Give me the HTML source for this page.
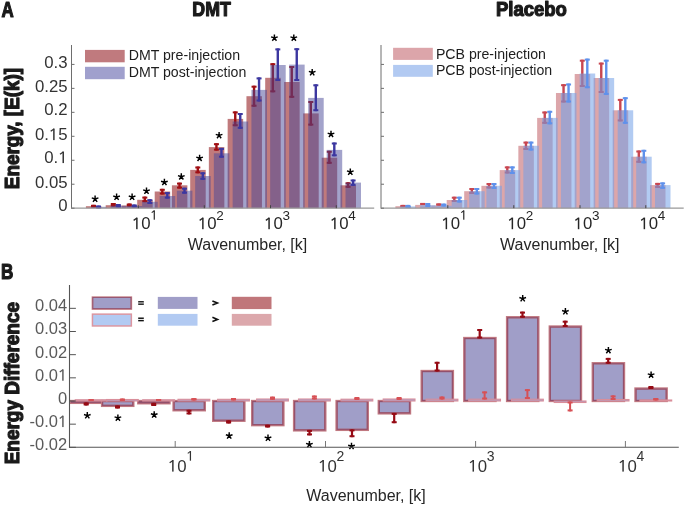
<!DOCTYPE html>
<html><head><meta charset="utf-8"><style>
html,body{margin:0;padding:0;background:#fff;}
body{width:685px;height:506px;overflow:hidden;}
svg{display:block;will-change:transform;font-family:"Liberation Sans",sans-serif;}
</style></head><body>
<svg width="685" height="506" viewBox="0 0 685 506">
<rect width="685" height="506" fill="#fff"/>
<rect x="85.90" y="206.20" width="15.50" height="2.00" fill="#c07a7c" />
<rect x="105.70" y="205.20" width="15.50" height="3.00" fill="#c07a7c" />
<rect x="121.70" y="205.50" width="15.50" height="2.70" fill="#c07a7c" />
<rect x="137.20" y="199.80" width="15.50" height="8.40" fill="#c07a7c" />
<rect x="154.70" y="191.50" width="15.50" height="16.70" fill="#c07a7c" />
<rect x="171.90" y="185.30" width="15.50" height="22.90" fill="#c07a7c" />
<rect x="190.20" y="169.90" width="15.50" height="38.30" fill="#c07a7c" />
<rect x="208.85" y="147.10" width="15.50" height="61.10" fill="#c07a7c" />
<rect x="227.65" y="118.90" width="15.50" height="89.30" fill="#c07a7c" />
<rect x="246.45" y="96.20" width="15.50" height="112.00" fill="#c07a7c" />
<rect x="265.20" y="77.80" width="15.50" height="130.40" fill="#c07a7c" />
<rect x="284.15" y="82.00" width="15.50" height="126.20" fill="#c07a7c" />
<rect x="303.20" y="113.40" width="15.50" height="94.80" fill="#c07a7c" />
<rect x="321.70" y="157.70" width="15.50" height="50.50" fill="#c07a7c" />
<rect x="340.50" y="185.30" width="15.50" height="22.90" fill="#c07a7c" />
<g fill="#a00f14" ><rect x="92.30" y="204.80" width="2.4" height="2.70"/><rect x="91.00" y="204.80" width="5" height="2.0"/><rect x="91.00" y="205.50" width="5" height="2.0"/></g>
<g fill="#a00f14" ><rect x="112.10" y="203.00" width="2.4" height="3.50"/><rect x="110.80" y="203.00" width="5" height="2.0"/><rect x="110.80" y="204.50" width="5" height="2.0"/></g>
<g fill="#a00f14" ><rect x="128.10" y="203.50" width="2.4" height="3.00"/><rect x="126.80" y="203.50" width="5" height="2.0"/><rect x="126.80" y="204.50" width="5" height="2.0"/></g>
<g fill="#a00f14" ><rect x="143.60" y="196.60" width="2.4" height="5.60"/><rect x="142.30" y="196.60" width="5" height="2.0"/><rect x="142.30" y="200.20" width="5" height="2.0"/></g>
<g fill="#a00f14" ><rect x="161.10" y="188.80" width="2.4" height="5.70"/><rect x="159.80" y="188.80" width="5" height="2.0"/><rect x="159.80" y="192.50" width="5" height="2.0"/></g>
<g fill="#a00f14" ><rect x="178.30" y="182.60" width="2.4" height="6.00"/><rect x="177.00" y="182.60" width="5" height="2.0"/><rect x="177.00" y="186.60" width="5" height="2.0"/></g>
<g fill="#a00f14" ><rect x="196.60" y="166.50" width="2.4" height="6.80"/><rect x="195.30" y="166.50" width="5" height="2.0"/><rect x="195.30" y="171.30" width="5" height="2.0"/></g>
<g fill="#a00f14" ><rect x="215.25" y="143.20" width="2.4" height="7.40"/><rect x="213.95" y="143.20" width="5" height="2.0"/><rect x="213.95" y="148.60" width="5" height="2.0"/></g>
<g fill="#a00f14" ><rect x="234.05" y="111.40" width="2.4" height="14.80"/><rect x="232.75" y="111.40" width="5" height="2.0"/><rect x="232.75" y="124.20" width="5" height="2.0"/></g>
<g fill="#a00f14" ><rect x="252.85" y="85.70" width="2.4" height="21.00"/><rect x="251.55" y="85.70" width="5" height="2.0"/><rect x="251.55" y="104.70" width="5" height="2.0"/></g>
<g fill="#a00f14" ><rect x="271.60" y="63.20" width="2.4" height="29.10"/><rect x="270.30" y="63.20" width="5" height="2.0"/><rect x="270.30" y="90.30" width="5" height="2.0"/></g>
<g fill="#a00f14" ><rect x="290.55" y="66.00" width="2.4" height="31.80"/><rect x="289.25" y="66.00" width="5" height="2.0"/><rect x="289.25" y="95.80" width="5" height="2.0"/></g>
<g fill="#a00f14" ><rect x="309.60" y="101.00" width="2.4" height="24.60"/><rect x="308.30" y="101.00" width="5" height="2.0"/><rect x="308.30" y="123.60" width="5" height="2.0"/></g>
<g fill="#a00f14" ><rect x="328.10" y="150.80" width="2.4" height="13.00"/><rect x="326.80" y="150.80" width="5" height="2.0"/><rect x="326.80" y="161.80" width="5" height="2.0"/></g>
<g fill="#a00f14" ><rect x="346.90" y="182.30" width="2.4" height="5.50"/><rect x="345.60" y="182.30" width="5" height="2.0"/><rect x="345.60" y="185.80" width="5" height="2.0"/></g>
<rect x="90.90" y="206.80" width="15.50" height="1.40" fill="#474797" fill-opacity="0.5"/>
<rect x="110.70" y="205.80" width="15.50" height="2.40" fill="#474797" fill-opacity="0.5"/>
<rect x="126.70" y="206.00" width="15.50" height="2.20" fill="#474797" fill-opacity="0.5"/>
<rect x="142.20" y="201.80" width="15.50" height="6.40" fill="#474797" fill-opacity="0.5"/>
<rect x="159.70" y="196.00" width="15.50" height="12.20" fill="#474797" fill-opacity="0.5"/>
<rect x="176.90" y="190.70" width="15.50" height="17.50" fill="#474797" fill-opacity="0.5"/>
<rect x="195.20" y="176.00" width="15.50" height="32.20" fill="#474797" fill-opacity="0.5"/>
<rect x="213.85" y="153.30" width="15.50" height="54.90" fill="#474797" fill-opacity="0.5"/>
<rect x="232.65" y="121.50" width="15.50" height="86.70" fill="#474797" fill-opacity="0.5"/>
<rect x="251.45" y="89.90" width="15.50" height="118.30" fill="#474797" fill-opacity="0.5"/>
<rect x="270.20" y="65.00" width="15.50" height="143.20" fill="#474797" fill-opacity="0.5"/>
<rect x="289.15" y="64.60" width="15.50" height="143.60" fill="#474797" fill-opacity="0.5"/>
<rect x="308.20" y="97.90" width="15.50" height="110.30" fill="#474797" fill-opacity="0.5"/>
<rect x="326.70" y="149.90" width="15.50" height="58.30" fill="#474797" fill-opacity="0.5"/>
<rect x="345.50" y="182.60" width="15.50" height="25.60" fill="#474797" fill-opacity="0.5"/>
<g fill="#3c37a0" ><rect x="97.30" y="205.50" width="2.4" height="3.00"/><rect x="96.00" y="205.50" width="5" height="2.0"/><rect x="96.00" y="206.50" width="5" height="2.0"/></g>
<g fill="#3c37a0" ><rect x="117.10" y="204.00" width="2.4" height="3.50"/><rect x="115.80" y="204.00" width="5" height="2.0"/><rect x="115.80" y="205.50" width="5" height="2.0"/></g>
<g fill="#3c37a0" ><rect x="133.10" y="204.50" width="2.4" height="3.00"/><rect x="131.80" y="204.50" width="5" height="2.0"/><rect x="131.80" y="205.50" width="5" height="2.0"/></g>
<g fill="#3c37a0" ><rect x="148.60" y="199.20" width="2.4" height="4.80"/><rect x="147.30" y="199.20" width="5" height="2.0"/><rect x="147.30" y="202.00" width="5" height="2.0"/></g>
<g fill="#3c37a0" ><rect x="166.10" y="192.10" width="2.4" height="6.50"/><rect x="164.80" y="192.10" width="5" height="2.0"/><rect x="164.80" y="196.60" width="5" height="2.0"/></g>
<g fill="#3c37a0" ><rect x="183.30" y="187.70" width="2.4" height="6.00"/><rect x="182.00" y="187.70" width="5" height="2.0"/><rect x="182.00" y="191.70" width="5" height="2.0"/></g>
<g fill="#3c37a0" ><rect x="201.60" y="172.30" width="2.4" height="7.50"/><rect x="200.30" y="172.30" width="5" height="2.0"/><rect x="200.30" y="177.80" width="5" height="2.0"/></g>
<g fill="#3c37a0" ><rect x="220.25" y="147.90" width="2.4" height="9.80"/><rect x="218.95" y="147.90" width="5" height="2.0"/><rect x="218.95" y="155.70" width="5" height="2.0"/></g>
<g fill="#3c37a0" ><rect x="239.05" y="113.00" width="2.4" height="15.80"/><rect x="237.75" y="113.00" width="5" height="2.0"/><rect x="237.75" y="126.80" width="5" height="2.0"/></g>
<g fill="#3c37a0" ><rect x="257.85" y="77.40" width="2.4" height="24.10"/><rect x="256.55" y="77.40" width="5" height="2.0"/><rect x="256.55" y="99.50" width="5" height="2.0"/></g>
<g fill="#3c37a0" ><rect x="276.60" y="48.40" width="2.4" height="32.60"/><rect x="275.30" y="48.40" width="5" height="2.0"/><rect x="275.30" y="79.00" width="5" height="2.0"/></g>
<g fill="#3c37a0" ><rect x="295.55" y="48.20" width="2.4" height="32.80"/><rect x="294.25" y="48.20" width="5" height="2.0"/><rect x="294.25" y="79.00" width="5" height="2.0"/></g>
<g fill="#3c37a0" ><rect x="314.60" y="84.30" width="2.4" height="26.90"/><rect x="313.30" y="84.30" width="5" height="2.0"/><rect x="313.30" y="109.20" width="5" height="2.0"/></g>
<g fill="#3c37a0" ><rect x="333.10" y="142.50" width="2.4" height="13.80"/><rect x="331.80" y="142.50" width="5" height="2.0"/><rect x="331.80" y="154.30" width="5" height="2.0"/></g>
<g fill="#3c37a0" ><rect x="351.90" y="179.50" width="2.4" height="6.40"/><rect x="350.60" y="179.50" width="5" height="2.0"/><rect x="350.60" y="183.90" width="5" height="2.0"/></g>
<path d="M95.10 199.00L95.10 195.50M95.10 199.00L98.43 197.92M95.10 199.00L97.16 201.83M95.10 199.00L93.04 201.83M95.10 199.00L91.77 197.92" stroke="#000" stroke-width="1.45" stroke-linecap="butt" fill="none"/>
<path d="M116.60 197.10L116.60 193.60M116.60 197.10L119.93 196.02M116.60 197.10L118.66 199.93M116.60 197.10L114.54 199.93M116.60 197.10L113.27 196.02" stroke="#000" stroke-width="1.45" stroke-linecap="butt" fill="none"/>
<path d="M132.10 197.10L132.10 193.60M132.10 197.10L135.43 196.02M132.10 197.10L134.16 199.93M132.10 197.10L130.04 199.93M132.10 197.10L128.77 196.02" stroke="#000" stroke-width="1.45" stroke-linecap="butt" fill="none"/>
<path d="M146.50 191.00L146.50 187.50M146.50 191.00L149.83 189.92M146.50 191.00L148.56 193.83M146.50 191.00L144.44 193.83M146.50 191.00L143.17 189.92" stroke="#000" stroke-width="1.45" stroke-linecap="butt" fill="none"/>
<path d="M164.40 182.30L164.40 178.80M164.40 182.30L167.73 181.22M164.40 182.30L166.46 185.13M164.40 182.30L162.34 185.13M164.40 182.30L161.07 181.22" stroke="#000" stroke-width="1.45" stroke-linecap="butt" fill="none"/>
<path d="M181.30 176.70L181.30 173.20M181.30 176.70L184.63 175.62M181.30 176.70L183.36 179.53M181.30 176.70L179.24 179.53M181.30 176.70L177.97 175.62" stroke="#000" stroke-width="1.45" stroke-linecap="butt" fill="none"/>
<path d="M199.60 158.20L199.60 154.70M199.60 158.20L202.93 157.12M199.60 158.20L201.66 161.03M199.60 158.20L197.54 161.03M199.60 158.20L196.27 157.12" stroke="#000" stroke-width="1.45" stroke-linecap="butt" fill="none"/>
<path d="M219.10 135.40L219.10 131.90M219.10 135.40L222.43 134.32M219.10 135.40L221.16 138.23M219.10 135.40L217.04 138.23M219.10 135.40L215.77 134.32" stroke="#000" stroke-width="1.45" stroke-linecap="butt" fill="none"/>
<path d="M274.40 37.90L274.40 34.40M274.40 37.90L277.73 36.82M274.40 37.90L276.46 40.73M274.40 37.90L272.34 40.73M274.40 37.90L271.07 36.82" stroke="#000" stroke-width="1.45" stroke-linecap="butt" fill="none"/>
<path d="M293.80 37.90L293.80 34.40M293.80 37.90L297.13 36.82M293.80 37.90L295.86 40.73M293.80 37.90L291.74 40.73M293.80 37.90L290.47 36.82" stroke="#000" stroke-width="1.45" stroke-linecap="butt" fill="none"/>
<path d="M312.20 72.50L312.20 69.00M312.20 72.50L315.53 71.42M312.20 72.50L314.26 75.33M312.20 72.50L310.14 75.33M312.20 72.50L308.87 71.42" stroke="#000" stroke-width="1.45" stroke-linecap="butt" fill="none"/>
<path d="M331.00 134.20L331.00 130.70M331.00 134.20L334.33 133.12M331.00 134.20L333.06 137.03M331.00 134.20L328.94 137.03M331.00 134.20L327.67 133.12" stroke="#000" stroke-width="1.45" stroke-linecap="butt" fill="none"/>
<path d="M350.30 172.00L350.30 168.50M350.30 172.00L353.63 170.92M350.30 172.00L352.36 174.83M350.30 172.00L348.24 174.83M350.30 172.00L346.97 170.92" stroke="#000" stroke-width="1.45" stroke-linecap="butt" fill="none"/>
<line x1="71.50" y1="45.00" x2="71.50" y2="208.70" stroke="#6e6e6e" stroke-width="1" />
<line x1="71.50" y1="208.10" x2="374.20" y2="208.10" stroke="#999" stroke-width="1.1" />
<line x1="71.50" y1="208.20" x2="74.50" y2="208.20" stroke="#6e6e6e" stroke-width="1" />
<line x1="71.50" y1="184.23" x2="74.50" y2="184.23" stroke="#6e6e6e" stroke-width="1" />
<line x1="71.50" y1="160.27" x2="74.50" y2="160.27" stroke="#6e6e6e" stroke-width="1" />
<line x1="71.50" y1="136.30" x2="74.50" y2="136.30" stroke="#6e6e6e" stroke-width="1" />
<line x1="71.50" y1="112.34" x2="74.50" y2="112.34" stroke="#6e6e6e" stroke-width="1" />
<line x1="71.50" y1="88.37" x2="74.50" y2="88.37" stroke="#6e6e6e" stroke-width="1" />
<line x1="71.50" y1="64.41" x2="74.50" y2="64.41" stroke="#6e6e6e" stroke-width="1" />
<line x1="138.30" y1="208.20" x2="138.30" y2="205.20" stroke="#444" stroke-width="1" />
<line x1="204.30" y1="208.20" x2="204.30" y2="205.20" stroke="#444" stroke-width="1" />
<line x1="270.50" y1="208.20" x2="270.50" y2="205.20" stroke="#444" stroke-width="1" />
<line x1="336.30" y1="208.20" x2="336.30" y2="205.20" stroke="#444" stroke-width="1" />
<rect x="395.40" y="206.20" width="15.50" height="2.00" fill="#dca6aa" />
<rect x="415.20" y="204.90" width="15.50" height="3.30" fill="#dca6aa" />
<rect x="431.20" y="205.50" width="15.50" height="2.70" fill="#dca6aa" />
<rect x="446.70" y="200.00" width="15.50" height="8.20" fill="#dca6aa" />
<rect x="464.20" y="191.20" width="15.50" height="17.00" fill="#dca6aa" />
<rect x="481.40" y="185.80" width="15.50" height="22.40" fill="#dca6aa" />
<rect x="499.70" y="170.10" width="15.50" height="38.10" fill="#dca6aa" />
<rect x="518.35" y="145.80" width="15.50" height="62.40" fill="#dca6aa" />
<rect x="537.15" y="117.90" width="15.50" height="90.30" fill="#dca6aa" />
<rect x="555.95" y="93.00" width="15.50" height="115.20" fill="#dca6aa" />
<rect x="574.70" y="74.00" width="15.50" height="134.20" fill="#dca6aa" />
<rect x="593.65" y="78.00" width="15.50" height="130.20" fill="#dca6aa" />
<rect x="612.70" y="110.30" width="15.50" height="97.90" fill="#dca6aa" />
<rect x="631.20" y="156.70" width="15.50" height="51.50" fill="#dca6aa" />
<rect x="650.00" y="185.10" width="15.50" height="23.10" fill="#dca6aa" />
<g fill="#c84650" ><rect x="401.80" y="204.90" width="2.4" height="2.20"/><rect x="400.50" y="204.90" width="5" height="2.0"/><rect x="400.50" y="205.10" width="5" height="2.0"/></g>
<g fill="#c84650" ><rect x="421.60" y="203.00" width="2.4" height="1.90"/><rect x="420.30" y="203.00" width="5" height="2.0"/><rect x="420.30" y="202.90" width="5" height="2.0"/></g>
<g fill="#c84650" ><rect x="437.60" y="203.60" width="2.4" height="1.90"/><rect x="436.30" y="203.60" width="5" height="2.0"/><rect x="436.30" y="203.50" width="5" height="2.0"/></g>
<g fill="#c84650" ><rect x="453.10" y="196.70" width="2.4" height="5.30"/><rect x="451.80" y="196.70" width="5" height="2.0"/><rect x="451.80" y="200.00" width="5" height="2.0"/></g>
<g fill="#c84650" ><rect x="470.60" y="188.00" width="2.4" height="6.00"/><rect x="469.30" y="188.00" width="5" height="2.0"/><rect x="469.30" y="192.00" width="5" height="2.0"/></g>
<g fill="#c84650" ><rect x="487.80" y="183.00" width="2.4" height="5.50"/><rect x="486.50" y="183.00" width="5" height="2.0"/><rect x="486.50" y="186.50" width="5" height="2.0"/></g>
<g fill="#c84650" ><rect x="506.10" y="166.40" width="2.4" height="7.10"/><rect x="504.80" y="166.40" width="5" height="2.0"/><rect x="504.80" y="171.50" width="5" height="2.0"/></g>
<g fill="#c84650" ><rect x="524.75" y="141.60" width="2.4" height="8.40"/><rect x="523.45" y="141.60" width="5" height="2.0"/><rect x="523.45" y="148.00" width="5" height="2.0"/></g>
<g fill="#c84650" ><rect x="543.55" y="111.50" width="2.4" height="12.30"/><rect x="542.25" y="111.50" width="5" height="2.0"/><rect x="542.25" y="121.80" width="5" height="2.0"/></g>
<g fill="#c84650" ><rect x="562.35" y="84.20" width="2.4" height="18.30"/><rect x="561.05" y="84.20" width="5" height="2.0"/><rect x="561.05" y="100.50" width="5" height="2.0"/></g>
<g fill="#c84650" ><rect x="581.10" y="59.70" width="2.4" height="27.30"/><rect x="579.80" y="59.70" width="5" height="2.0"/><rect x="579.80" y="85.00" width="5" height="2.0"/></g>
<g fill="#c84650" ><rect x="600.05" y="62.60" width="2.4" height="30.40"/><rect x="598.75" y="62.60" width="5" height="2.0"/><rect x="598.75" y="91.00" width="5" height="2.0"/></g>
<g fill="#c84650" ><rect x="619.10" y="98.90" width="2.4" height="22.50"/><rect x="617.80" y="98.90" width="5" height="2.0"/><rect x="617.80" y="119.40" width="5" height="2.0"/></g>
<g fill="#c84650" ><rect x="637.60" y="150.50" width="2.4" height="12.30"/><rect x="636.30" y="150.50" width="5" height="2.0"/><rect x="636.30" y="160.80" width="5" height="2.0"/></g>
<g fill="#c84650" ><rect x="656.40" y="182.90" width="2.4" height="5.10"/><rect x="655.10" y="182.90" width="5" height="2.0"/><rect x="655.10" y="186.00" width="5" height="2.0"/></g>
<rect x="400.40" y="206.40" width="15.50" height="1.80" fill="#73a1e8" fill-opacity="0.55"/>
<rect x="420.20" y="205.20" width="15.50" height="3.00" fill="#73a1e8" fill-opacity="0.55"/>
<rect x="436.20" y="205.80" width="15.50" height="2.40" fill="#73a1e8" fill-opacity="0.55"/>
<rect x="451.70" y="200.00" width="15.50" height="8.20" fill="#73a1e8" fill-opacity="0.55"/>
<rect x="469.20" y="191.20" width="15.50" height="17.00" fill="#73a1e8" fill-opacity="0.55"/>
<rect x="486.40" y="185.80" width="15.50" height="22.40" fill="#73a1e8" fill-opacity="0.55"/>
<rect x="504.70" y="170.10" width="15.50" height="38.10" fill="#73a1e8" fill-opacity="0.55"/>
<rect x="523.35" y="145.80" width="15.50" height="62.40" fill="#73a1e8" fill-opacity="0.55"/>
<rect x="542.15" y="117.90" width="15.50" height="90.30" fill="#73a1e8" fill-opacity="0.55"/>
<rect x="560.95" y="93.00" width="15.50" height="115.20" fill="#73a1e8" fill-opacity="0.55"/>
<rect x="579.70" y="73.50" width="15.50" height="134.70" fill="#73a1e8" fill-opacity="0.55"/>
<rect x="598.65" y="78.00" width="15.50" height="130.20" fill="#73a1e8" fill-opacity="0.55"/>
<rect x="617.70" y="110.30" width="15.50" height="97.90" fill="#73a1e8" fill-opacity="0.55"/>
<rect x="636.20" y="156.70" width="15.50" height="51.50" fill="#73a1e8" fill-opacity="0.55"/>
<rect x="655.00" y="185.10" width="15.50" height="23.10" fill="#73a1e8" fill-opacity="0.55"/>
<g fill="#5f91eb" ><rect x="406.80" y="204.90" width="2.4" height="3.10"/><rect x="405.50" y="204.90" width="5" height="2.0"/><rect x="405.50" y="206.00" width="5" height="2.0"/></g>
<g fill="#5f91eb" ><rect x="426.60" y="203.00" width="2.4" height="4.00"/><rect x="425.30" y="203.00" width="5" height="2.0"/><rect x="425.30" y="205.00" width="5" height="2.0"/></g>
<g fill="#5f91eb" ><rect x="442.60" y="203.60" width="2.4" height="2.90"/><rect x="441.30" y="203.60" width="5" height="2.0"/><rect x="441.30" y="204.50" width="5" height="2.0"/></g>
<g fill="#5f91eb" ><rect x="458.10" y="196.70" width="2.4" height="5.80"/><rect x="456.80" y="196.70" width="5" height="2.0"/><rect x="456.80" y="200.50" width="5" height="2.0"/></g>
<g fill="#5f91eb" ><rect x="475.60" y="188.00" width="2.4" height="6.50"/><rect x="474.30" y="188.00" width="5" height="2.0"/><rect x="474.30" y="192.50" width="5" height="2.0"/></g>
<g fill="#5f91eb" ><rect x="492.80" y="183.00" width="2.4" height="6.00"/><rect x="491.50" y="183.00" width="5" height="2.0"/><rect x="491.50" y="187.00" width="5" height="2.0"/></g>
<g fill="#5f91eb" ><rect x="511.10" y="166.40" width="2.4" height="7.60"/><rect x="509.80" y="166.40" width="5" height="2.0"/><rect x="509.80" y="172.00" width="5" height="2.0"/></g>
<g fill="#5f91eb" ><rect x="529.75" y="141.60" width="2.4" height="8.90"/><rect x="528.45" y="141.60" width="5" height="2.0"/><rect x="528.45" y="148.50" width="5" height="2.0"/></g>
<g fill="#5f91eb" ><rect x="548.55" y="110.80" width="2.4" height="13.50"/><rect x="547.25" y="110.80" width="5" height="2.0"/><rect x="547.25" y="122.30" width="5" height="2.0"/></g>
<g fill="#5f91eb" ><rect x="567.35" y="83.50" width="2.4" height="19.00"/><rect x="566.05" y="83.50" width="5" height="2.0"/><rect x="566.05" y="100.50" width="5" height="2.0"/></g>
<g fill="#5f91eb" ><rect x="586.10" y="58.60" width="2.4" height="29.60"/><rect x="584.80" y="58.60" width="5" height="2.0"/><rect x="584.80" y="86.20" width="5" height="2.0"/></g>
<g fill="#5f91eb" ><rect x="605.05" y="59.70" width="2.4" height="35.20"/><rect x="603.75" y="59.70" width="5" height="2.0"/><rect x="603.75" y="92.90" width="5" height="2.0"/></g>
<g fill="#5f91eb" ><rect x="624.10" y="97.20" width="2.4" height="26.60"/><rect x="622.80" y="97.20" width="5" height="2.0"/><rect x="622.80" y="121.80" width="5" height="2.0"/></g>
<g fill="#5f91eb" ><rect x="642.60" y="149.80" width="2.4" height="13.50"/><rect x="641.30" y="149.80" width="5" height="2.0"/><rect x="641.30" y="161.30" width="5" height="2.0"/></g>
<g fill="#5f91eb" ><rect x="661.40" y="182.40" width="2.4" height="6.40"/><rect x="660.10" y="182.40" width="5" height="2.0"/><rect x="660.10" y="186.80" width="5" height="2.0"/></g>
<line x1="381.00" y1="45.00" x2="381.00" y2="208.70" stroke="#6e6e6e" stroke-width="1" />
<line x1="381.00" y1="208.10" x2="683.70" y2="208.10" stroke="#999" stroke-width="1.1" />
<line x1="381.00" y1="208.20" x2="384.00" y2="208.20" stroke="#6e6e6e" stroke-width="1" />
<line x1="381.00" y1="184.23" x2="384.00" y2="184.23" stroke="#6e6e6e" stroke-width="1" />
<line x1="381.00" y1="160.27" x2="384.00" y2="160.27" stroke="#6e6e6e" stroke-width="1" />
<line x1="381.00" y1="136.30" x2="384.00" y2="136.30" stroke="#6e6e6e" stroke-width="1" />
<line x1="381.00" y1="112.34" x2="384.00" y2="112.34" stroke="#6e6e6e" stroke-width="1" />
<line x1="381.00" y1="88.37" x2="384.00" y2="88.37" stroke="#6e6e6e" stroke-width="1" />
<line x1="381.00" y1="64.41" x2="384.00" y2="64.41" stroke="#6e6e6e" stroke-width="1" />
<line x1="447.80" y1="208.20" x2="447.80" y2="205.20" stroke="#444" stroke-width="1" />
<line x1="513.80" y1="208.20" x2="513.80" y2="205.20" stroke="#444" stroke-width="1" />
<line x1="580.00" y1="208.20" x2="580.00" y2="205.20" stroke="#444" stroke-width="1" />
<line x1="645.80" y1="208.20" x2="645.80" y2="205.20" stroke="#444" stroke-width="1" />
<text x="58.26" y="211.00" font-size="16.8" fill="#333" font-weight="normal" text-anchor="start" >0</text>
<text x="34.90" y="187.63" font-size="16.8" fill="#333" font-weight="normal" text-anchor="start" >0.05</text>
<text x="44.25" y="163.07" font-size="16.8" fill="#333" font-weight="normal" text-anchor="start" >0.</text>
<rect x="62.49" y="151.51" width="1.48" height="11.56" fill="#333"/>
<path d="M63.30 151.90L60.02 154.25" stroke="#333" stroke-width="1.26" fill="none"/>
<text x="34.90" y="140.10" font-size="16.8" fill="#333" font-weight="normal" text-anchor="start" >0.</text>
<rect x="53.15" y="128.55" width="1.48" height="11.56" fill="#333"/>
<path d="M53.95 128.93L50.68 131.28" stroke="#333" stroke-width="1.26" fill="none"/>
<text x="58.26" y="140.10" font-size="16.8" fill="#333" font-weight="normal" text-anchor="start" >5</text>
<text x="44.25" y="115.34" font-size="16.8" fill="#333" font-weight="normal" text-anchor="start" >0.2</text>
<text x="34.90" y="91.57" font-size="16.8" fill="#333" font-weight="normal" text-anchor="start" >0.25</text>
<text x="44.25" y="68.11" font-size="16.8" fill="#333" font-weight="normal" text-anchor="start" >0.3</text>
<rect x="136.13" y="217.64" width="1.48" height="11.56" fill="#262626"/>
<path d="M136.94 218.03L133.66 220.38" stroke="#262626" stroke-width="1.26" fill="none"/>
<text x="141.24" y="229.20" font-size="16.8" fill="#262626" font-weight="normal" text-anchor="start" >0</text>
<rect x="153.68" y="210.41" width="1.19" height="9.29" fill="#262626"/>
<path d="M154.33 210.72L151.70 212.61" stroke="#262626" stroke-width="1.01" fill="none"/>
<rect x="202.13" y="217.64" width="1.48" height="11.56" fill="#262626"/>
<path d="M202.94 218.03L199.66 220.38" stroke="#262626" stroke-width="1.26" fill="none"/>
<text x="207.24" y="229.20" font-size="16.8" fill="#262626" font-weight="normal" text-anchor="start" >0</text>
<text x="216.28" y="219.70" font-size="13.5" fill="#262626" font-weight="normal" text-anchor="start" >2</text>
<rect x="268.33" y="217.64" width="1.48" height="11.56" fill="#262626"/>
<path d="M269.14 218.03L265.86 220.38" stroke="#262626" stroke-width="1.26" fill="none"/>
<text x="273.44" y="229.20" font-size="16.8" fill="#262626" font-weight="normal" text-anchor="start" >0</text>
<text x="282.48" y="219.70" font-size="13.5" fill="#262626" font-weight="normal" text-anchor="start" >3</text>
<rect x="334.13" y="217.64" width="1.48" height="11.56" fill="#262626"/>
<path d="M334.94 218.03L331.66 220.38" stroke="#262626" stroke-width="1.26" fill="none"/>
<text x="339.24" y="229.20" font-size="16.8" fill="#262626" font-weight="normal" text-anchor="start" >0</text>
<text x="348.28" y="219.70" font-size="13.5" fill="#262626" font-weight="normal" text-anchor="start" >4</text>
<rect x="445.63" y="217.64" width="1.48" height="11.56" fill="#262626"/>
<path d="M446.44 218.03L443.16 220.38" stroke="#262626" stroke-width="1.26" fill="none"/>
<text x="450.74" y="229.20" font-size="16.8" fill="#262626" font-weight="normal" text-anchor="start" >0</text>
<rect x="463.18" y="210.41" width="1.19" height="9.29" fill="#262626"/>
<path d="M463.83 210.72L461.20 212.61" stroke="#262626" stroke-width="1.01" fill="none"/>
<rect x="511.63" y="217.64" width="1.48" height="11.56" fill="#262626"/>
<path d="M512.44 218.03L509.16 220.38" stroke="#262626" stroke-width="1.26" fill="none"/>
<text x="516.74" y="229.20" font-size="16.8" fill="#262626" font-weight="normal" text-anchor="start" >0</text>
<text x="525.78" y="219.70" font-size="13.5" fill="#262626" font-weight="normal" text-anchor="start" >2</text>
<rect x="577.83" y="217.64" width="1.48" height="11.56" fill="#262626"/>
<path d="M578.64 218.03L575.36 220.38" stroke="#262626" stroke-width="1.26" fill="none"/>
<text x="582.94" y="229.20" font-size="16.8" fill="#262626" font-weight="normal" text-anchor="start" >0</text>
<text x="591.98" y="219.70" font-size="13.5" fill="#262626" font-weight="normal" text-anchor="start" >3</text>
<rect x="643.63" y="217.64" width="1.48" height="11.56" fill="#262626"/>
<path d="M644.44 218.03L641.16 220.38" stroke="#262626" stroke-width="1.26" fill="none"/>
<text x="648.74" y="229.20" font-size="16.8" fill="#262626" font-weight="normal" text-anchor="start" >0</text>
<text x="657.78" y="219.70" font-size="13.5" fill="#262626" font-weight="normal" text-anchor="start" >4</text>
<text x="187.80" y="249.90" font-size="16" fill="#262626" font-weight="normal" text-anchor="start" >Wavenumber, [k]</text>
<text x="500.10" y="249.90" font-size="16" fill="#262626" font-weight="normal" text-anchor="start" >Wavenumber, [k]</text>
<rect x="85.00" y="49.90" width="39.70" height="12.40" fill="#c07a7e" />
<rect x="85.00" y="66.80" width="39.70" height="12.40" fill="#a0a0cd" />
<text x="128.70" y="60.40" font-size="14.15" fill="#1e1e1e" font-weight="normal" text-anchor="start" >DMT pre-injection</text>
<text x="128.70" y="77.10" font-size="14.15" fill="#1e1e1e" font-weight="normal" text-anchor="start" >DMT post-injection</text>
<rect x="393.10" y="47.80" width="39.70" height="12.10" fill="#dca5aa" />
<rect x="393.10" y="64.90" width="39.70" height="11.90" fill="#b2caf2" />
<text x="435.90" y="58.50" font-size="14.15" fill="#1e1e1e" font-weight="normal" text-anchor="start" >PCB pre-injection</text>
<text x="435.90" y="75.40" font-size="14.15" fill="#1e1e1e" font-weight="normal" text-anchor="start" >PCB post-injection</text>
<text transform="translate(1.46,16.60) scale(0.797,1)" font-size="21.22" font-weight="bold" fill="#1a1a1a" stroke="#1a1a1a" stroke-width="1.2" stroke-linejoin="round">A</text>
<text transform="translate(192.33,16.20) scale(0.854,1)" font-size="20.79" font-weight="bold" fill="#1a1a1a" stroke="#1a1a1a" stroke-width="1.2" stroke-linejoin="round">DMT</text>
<text transform="translate(495.92,16.41) scale(0.932,1)" font-size="19.88" font-weight="bold" fill="#1a1a1a" stroke="#1a1a1a" stroke-width="1.2" stroke-linejoin="round">Placebo</text>
<text transform="translate(1.09,279.20) scale(0.803,1)" font-size="21.22" font-weight="bold" fill="#1a1a1a" stroke="#1a1a1a" stroke-width="1.2" stroke-linejoin="round">B</text>
<text transform="translate(18.80,189.21) rotate(-90) scale(0.922,1)" font-size="20.49" font-weight="bold" fill="#1a1a1a" stroke="#1a1a1a" stroke-width="1.2" stroke-linejoin="round">Energy, [E(k)]</text>
<text transform="translate(19.00,464.33) rotate(-90) scale(0.9,1)" font-size="21.08" font-weight="bold" fill="#1a1a1a" stroke="#1a1a1a" stroke-width="1.2" stroke-linejoin="round">Energy Difference</text>
<rect x="70.75" y="401.00" width="31.30" height="1.90" fill="#a09ec8" stroke="#c07880" stroke-width="2.3"/>
<rect x="71.33" y="401.57" width="30.15" height="0.75" fill="none" stroke="#92506c" stroke-width="1.15"/>
<rect x="102.05" y="401.00" width="31.30" height="4.90" fill="#a09ec8" stroke="#c07880" stroke-width="2.3"/>
<rect x="102.62" y="401.57" width="30.15" height="3.75" fill="none" stroke="#92506c" stroke-width="1.15"/>
<rect x="138.25" y="401.00" width="31.30" height="2.30" fill="#a09ec8" stroke="#c07880" stroke-width="2.3"/>
<rect x="138.82" y="401.57" width="30.15" height="1.15" fill="none" stroke="#92506c" stroke-width="1.15"/>
<rect x="173.55" y="401.00" width="31.30" height="9.30" fill="#a09ec8" stroke="#c07880" stroke-width="2.3"/>
<rect x="174.12" y="401.57" width="30.15" height="8.15" fill="none" stroke="#92506c" stroke-width="1.15"/>
<rect x="213.15" y="401.00" width="31.30" height="19.80" fill="#a09ec8" stroke="#c07880" stroke-width="2.3"/>
<rect x="213.72" y="401.57" width="30.15" height="18.65" fill="none" stroke="#92506c" stroke-width="1.15"/>
<rect x="252.15" y="401.00" width="31.30" height="24.20" fill="#a09ec8" stroke="#c07880" stroke-width="2.3"/>
<rect x="252.72" y="401.57" width="30.15" height="23.05" fill="none" stroke="#92506c" stroke-width="1.15"/>
<rect x="294.05" y="401.00" width="31.30" height="29.40" fill="#a09ec8" stroke="#c07880" stroke-width="2.3"/>
<rect x="294.62" y="401.57" width="30.15" height="28.25" fill="none" stroke="#92506c" stroke-width="1.15"/>
<rect x="336.55" y="401.00" width="31.30" height="28.90" fill="#a09ec8" stroke="#c07880" stroke-width="2.3"/>
<rect x="337.12" y="401.57" width="30.15" height="27.75" fill="none" stroke="#92506c" stroke-width="1.15"/>
<rect x="378.75" y="401.00" width="31.30" height="12.40" fill="#a09ec8" stroke="#c07880" stroke-width="2.3"/>
<rect x="379.32" y="401.57" width="30.15" height="11.25" fill="none" stroke="#92506c" stroke-width="1.15"/>
<rect x="421.65" y="371.00" width="31.30" height="30.00" fill="#a09ec8" stroke="#c07880" stroke-width="2.3"/>
<rect x="422.23" y="371.57" width="30.15" height="28.85" fill="none" stroke="#92506c" stroke-width="1.15"/>
<rect x="464.25" y="338.00" width="31.30" height="63.00" fill="#a09ec8" stroke="#c07880" stroke-width="2.3"/>
<rect x="464.82" y="338.57" width="30.15" height="61.85" fill="none" stroke="#92506c" stroke-width="1.15"/>
<rect x="507.05" y="317.20" width="31.30" height="83.80" fill="#a09ec8" stroke="#c07880" stroke-width="2.3"/>
<rect x="507.63" y="317.77" width="30.15" height="82.65" fill="none" stroke="#92506c" stroke-width="1.15"/>
<rect x="549.75" y="326.50" width="31.30" height="74.50" fill="#a09ec8" stroke="#c07880" stroke-width="2.3"/>
<rect x="550.33" y="327.07" width="30.15" height="73.35" fill="none" stroke="#92506c" stroke-width="1.15"/>
<rect x="592.75" y="363.20" width="31.30" height="37.80" fill="#a09ec8" stroke="#c07880" stroke-width="2.3"/>
<rect x="593.33" y="363.77" width="30.15" height="36.65" fill="none" stroke="#92506c" stroke-width="1.15"/>
<rect x="635.45" y="388.50" width="31.30" height="12.50" fill="#a09ec8" stroke="#c07880" stroke-width="2.3"/>
<rect x="636.03" y="389.07" width="30.15" height="11.35" fill="none" stroke="#92506c" stroke-width="1.15"/>
<rect x="75.20" y="399.80" width="31.8" height="1.20" fill="#a8a0cc" stroke="#d98e9a" stroke-width="1.1"/>
<rect x="106.50" y="399.50" width="31.8" height="1.50" fill="#a8a0cc" stroke="#d98e9a" stroke-width="1.1"/>
<rect x="142.70" y="399.80" width="31.8" height="1.20" fill="#a8a0cc" stroke="#d98e9a" stroke-width="1.1"/>
<rect x="178.00" y="399.30" width="31.8" height="1.70" fill="#a8a0cc" stroke="#d98e9a" stroke-width="1.1"/>
<rect x="217.60" y="399.30" width="31.8" height="1.70" fill="#a8a0cc" stroke="#d98e9a" stroke-width="1.1"/>
<rect x="256.60" y="399.00" width="31.8" height="2.00" fill="#a8a0cc" stroke="#d98e9a" stroke-width="1.1"/>
<rect x="298.50" y="399.00" width="31.8" height="2.00" fill="#a8a0cc" stroke="#d98e9a" stroke-width="1.1"/>
<rect x="341.00" y="399.20" width="31.8" height="1.80" fill="#a8a0cc" stroke="#d98e9a" stroke-width="1.1"/>
<rect x="383.20" y="399.00" width="31.8" height="2.00" fill="#a8a0cc" stroke="#d98e9a" stroke-width="1.1"/>
<rect x="426.10" y="399.20" width="31.8" height="1.80" fill="#a8a0cc" stroke="#d98e9a" stroke-width="1.1"/>
<rect x="468.70" y="399.20" width="31.8" height="1.80" fill="#a8a0cc" stroke="#d98e9a" stroke-width="1.1"/>
<rect x="511.50" y="399.20" width="31.8" height="1.80" fill="#a8a0cc" stroke="#d98e9a" stroke-width="1.1"/>
<rect x="554.20" y="401.00" width="31.8" height="1.50" fill="#a8a0cc" stroke="#d98e9a" stroke-width="1.1"/>
<rect x="597.20" y="399.50" width="31.8" height="1.50" fill="#a8a0cc" stroke="#d98e9a" stroke-width="1.1"/>
<rect x="639.90" y="400.00" width="31.8" height="1.00" fill="#a8a0cc" stroke="#d98e9a" stroke-width="1.1"/>
<g fill="#960a14" ><rect x="85.10" y="402.40" width="2.2" height="3.10"/><rect x="83.70" y="402.40" width="5" height="2.0"/><rect x="83.70" y="403.50" width="5" height="2.0"/></g>
<g fill="#960a14" ><rect x="116.40" y="405.40" width="2.2" height="3.10"/><rect x="115.00" y="405.40" width="5" height="2.0"/><rect x="115.00" y="406.50" width="5" height="2.0"/></g>
<g fill="#960a14" ><rect x="152.60" y="402.80" width="2.2" height="3.20"/><rect x="151.20" y="402.80" width="5" height="2.0"/><rect x="151.20" y="404.00" width="5" height="2.0"/></g>
<g fill="#960a14" ><rect x="187.90" y="409.80" width="2.2" height="4.60"/><rect x="186.50" y="409.80" width="5" height="2.0"/><rect x="186.50" y="412.40" width="5" height="2.0"/></g>
<g fill="#960a14" ><rect x="227.50" y="420.30" width="2.2" height="3.20"/><rect x="226.10" y="420.30" width="5" height="2.0"/><rect x="226.10" y="421.50" width="5" height="2.0"/></g>
<g fill="#960a14" ><rect x="266.50" y="424.70" width="2.2" height="2.80"/><rect x="265.10" y="424.70" width="5" height="2.0"/><rect x="265.10" y="425.50" width="5" height="2.0"/></g>
<g fill="#960a14" ><rect x="308.40" y="429.90" width="2.2" height="5.50"/><rect x="307.00" y="429.90" width="5" height="2.0"/><rect x="307.00" y="433.40" width="5" height="2.0"/></g>
<g fill="#960a14" ><rect x="350.90" y="429.40" width="2.2" height="7.80"/><rect x="349.50" y="429.40" width="5" height="2.0"/><rect x="349.50" y="435.20" width="5" height="2.0"/></g>
<g fill="#960a14" ><rect x="393.10" y="412.90" width="2.2" height="10.30"/><rect x="391.70" y="412.90" width="5" height="2.0"/><rect x="391.70" y="421.20" width="5" height="2.0"/></g>
<g fill="#960a14" ><rect x="436.00" y="361.80" width="2.2" height="9.70"/><rect x="434.60" y="361.80" width="5" height="2.0"/><rect x="434.60" y="369.50" width="5" height="2.0"/></g>
<g fill="#960a14" ><rect x="478.60" y="329.00" width="2.2" height="9.50"/><rect x="477.20" y="329.00" width="5" height="2.0"/><rect x="477.20" y="336.50" width="5" height="2.0"/></g>
<g fill="#960a14" ><rect x="521.40" y="311.60" width="2.2" height="6.10"/><rect x="520.00" y="311.60" width="5" height="2.0"/><rect x="520.00" y="315.70" width="5" height="2.0"/></g>
<g fill="#960a14" ><rect x="564.10" y="320.70" width="2.2" height="6.30"/><rect x="562.70" y="320.70" width="5" height="2.0"/><rect x="562.70" y="325.00" width="5" height="2.0"/></g>
<g fill="#960a14" ><rect x="607.10" y="357.90" width="2.2" height="5.80"/><rect x="605.70" y="357.90" width="5" height="2.0"/><rect x="605.70" y="361.70" width="5" height="2.0"/></g>
<g fill="#960a14" ><rect x="649.80" y="386.00" width="2.2" height="3.00"/><rect x="648.40" y="386.00" width="5" height="2.0"/><rect x="648.40" y="387.00" width="5" height="2.0"/></g>
<g fill="#d75055" ><rect x="90.10" y="399.00" width="2" height="2.00"/><rect x="88.60" y="399.00" width="5" height="2.0"/><rect x="88.60" y="399.00" width="5" height="2.0"/></g>
<g fill="#d75055" ><rect x="121.40" y="398.50" width="2" height="2.50"/><rect x="119.90" y="398.50" width="5" height="2.0"/><rect x="119.90" y="399.00" width="5" height="2.0"/></g>
<g fill="#d75055" ><rect x="157.60" y="399.00" width="2" height="2.00"/><rect x="156.10" y="399.00" width="5" height="2.0"/><rect x="156.10" y="399.00" width="5" height="2.0"/></g>
<g fill="#d75055" ><rect x="192.90" y="398.10" width="2" height="2.40"/><rect x="191.40" y="398.10" width="5" height="2.0"/><rect x="191.40" y="398.50" width="5" height="2.0"/></g>
<g fill="#d75055" ><rect x="232.50" y="398.00" width="2" height="2.50"/><rect x="231.00" y="398.00" width="5" height="2.0"/><rect x="231.00" y="398.50" width="5" height="2.0"/></g>
<g fill="#d75055" ><rect x="271.50" y="396.60" width="2" height="3.20"/><rect x="270.00" y="396.60" width="5" height="2.0"/><rect x="270.00" y="397.80" width="5" height="2.0"/></g>
<g fill="#d75055" ><rect x="313.40" y="395.50" width="2" height="4.00"/><rect x="311.90" y="395.50" width="5" height="2.0"/><rect x="311.90" y="397.50" width="5" height="2.0"/></g>
<g fill="#d75055" ><rect x="355.90" y="397.00" width="2" height="3.00"/><rect x="354.40" y="397.00" width="5" height="2.0"/><rect x="354.40" y="398.00" width="5" height="2.0"/></g>
<g fill="#d75055" ><rect x="398.10" y="397.00" width="2" height="3.00"/><rect x="396.60" y="397.00" width="5" height="2.0"/><rect x="396.60" y="398.00" width="5" height="2.0"/></g>
<g fill="#d75055" ><rect x="441.00" y="396.50" width="2" height="3.00"/><rect x="439.50" y="396.50" width="5" height="2.0"/><rect x="439.50" y="397.50" width="5" height="2.0"/></g>
<g fill="#d75055" ><rect x="483.60" y="391.40" width="2" height="8.10"/><rect x="482.10" y="391.40" width="5" height="2.0"/><rect x="482.10" y="397.50" width="5" height="2.0"/></g>
<g fill="#d75055" ><rect x="526.40" y="389.10" width="2" height="9.90"/><rect x="524.90" y="389.10" width="5" height="2.0"/><rect x="524.90" y="397.00" width="5" height="2.0"/></g>
<g fill="#d75055" ><rect x="569.10" y="401.50" width="2" height="9.90"/><rect x="567.60" y="401.50" width="5" height="2.0"/><rect x="567.60" y="409.40" width="5" height="2.0"/></g>
<g fill="#d75055" ><rect x="612.10" y="395.40" width="2" height="4.60"/><rect x="610.60" y="395.40" width="5" height="2.0"/><rect x="610.60" y="398.00" width="5" height="2.0"/></g>
<g fill="#d75055" ><rect x="654.80" y="398.00" width="2" height="2.50"/><rect x="653.30" y="398.00" width="5" height="2.0"/><rect x="653.30" y="398.50" width="5" height="2.0"/></g>
<path d="M87.30 415.60L87.30 412.10M87.30 415.60L90.63 414.52M87.30 415.60L89.36 418.43M87.30 415.60L85.24 418.43M87.30 415.60L83.97 414.52" stroke="#000" stroke-width="1.45" stroke-linecap="butt" fill="none"/>
<path d="M117.90 417.90L117.90 414.40M117.90 417.90L121.23 416.82M117.90 417.90L119.96 420.73M117.90 417.90L115.84 420.73M117.90 417.90L114.57 416.82" stroke="#000" stroke-width="1.45" stroke-linecap="butt" fill="none"/>
<path d="M154.20 414.80L154.20 411.30M154.20 414.80L157.53 413.72M154.20 414.80L156.26 417.63M154.20 414.80L152.14 417.63M154.20 414.80L150.87 413.72" stroke="#000" stroke-width="1.45" stroke-linecap="butt" fill="none"/>
<path d="M229.20 435.80L229.20 432.30M229.20 435.80L232.53 434.72M229.20 435.80L231.26 438.63M229.20 435.80L227.14 438.63M229.20 435.80L225.87 434.72" stroke="#000" stroke-width="1.45" stroke-linecap="butt" fill="none"/>
<path d="M268.00 438.10L268.00 434.60M268.00 438.10L271.33 437.02M268.00 438.10L270.06 440.93M268.00 438.10L265.94 440.93M268.00 438.10L264.67 437.02" stroke="#000" stroke-width="1.45" stroke-linecap="butt" fill="none"/>
<path d="M309.40 444.50L309.40 441.00M309.40 444.50L312.73 443.42M309.40 444.50L311.46 447.33M309.40 444.50L307.34 447.33M309.40 444.50L306.07 443.42" stroke="#000" stroke-width="1.45" stroke-linecap="butt" fill="none"/>
<path d="M351.50 446.30L351.50 442.80M351.50 446.30L354.83 445.22M351.50 446.30L353.56 449.13M351.50 446.30L349.44 449.13M351.50 446.30L348.17 445.22" stroke="#000" stroke-width="1.45" stroke-linecap="butt" fill="none"/>
<path d="M522.70 298.60L522.70 295.10M522.70 298.60L526.03 297.52M522.70 298.60L524.76 301.43M522.70 298.60L520.64 301.43M522.70 298.60L519.37 297.52" stroke="#000" stroke-width="1.45" stroke-linecap="butt" fill="none"/>
<path d="M565.40 311.60L565.40 308.10M565.40 311.60L568.73 310.52M565.40 311.60L567.46 314.43M565.40 311.60L563.34 314.43M565.40 311.60L562.07 310.52" stroke="#000" stroke-width="1.45" stroke-linecap="butt" fill="none"/>
<path d="M608.40 350.40L608.40 346.90M608.40 350.40L611.73 349.32M608.40 350.40L610.46 353.23M608.40 350.40L606.34 353.23M608.40 350.40L605.07 349.32" stroke="#000" stroke-width="1.45" stroke-linecap="butt" fill="none"/>
<path d="M651.10 374.90L651.10 371.40M651.10 374.90L654.43 373.82M651.10 374.90L653.16 377.73M651.10 374.90L649.04 377.73M651.10 374.90L647.77 373.82" stroke="#000" stroke-width="1.45" stroke-linecap="butt" fill="none"/>
<line x1="69.50" y1="285.00" x2="69.50" y2="447.80" stroke="#555" stroke-width="1.1" />
<line x1="69.00" y1="447.30" x2="678.80" y2="447.30" stroke="#555" stroke-width="1.1" />
<line x1="69.50" y1="447.33" x2="75.90" y2="447.33" stroke="#555" stroke-width="1" />
<text x="29.59" y="450.23" font-size="16.5" fill="#5a5a5a" font-weight="normal" text-anchor="start" >-0.02</text>
<line x1="69.50" y1="424.17" x2="75.90" y2="424.17" stroke="#555" stroke-width="1" />
<text x="29.59" y="427.07" font-size="16.5" fill="#5a5a5a" font-weight="normal" text-anchor="start" >-0.0</text>
<rect x="62.18" y="415.71" width="1.45" height="11.35" fill="#5a5a5a"/>
<path d="M62.97 416.09L59.76 418.40" stroke="#5a5a5a" stroke-width="1.24" fill="none"/>
<line x1="69.50" y1="401.00" x2="75.90" y2="401.00" stroke="#555" stroke-width="1" />
<text x="58.02" y="403.90" font-size="16.5" fill="#5a5a5a" font-weight="normal" text-anchor="start" >0</text>
<line x1="69.50" y1="377.83" x2="75.90" y2="377.83" stroke="#555" stroke-width="1" />
<text x="35.09" y="380.73" font-size="16.5" fill="#5a5a5a" font-weight="normal" text-anchor="start" >0.0</text>
<rect x="62.18" y="369.38" width="1.45" height="11.35" fill="#5a5a5a"/>
<path d="M62.97 369.76L59.76 372.07" stroke="#5a5a5a" stroke-width="1.24" fill="none"/>
<line x1="69.50" y1="354.67" x2="75.90" y2="354.67" stroke="#555" stroke-width="1" />
<text x="35.09" y="357.57" font-size="16.5" fill="#5a5a5a" font-weight="normal" text-anchor="start" >0.02</text>
<line x1="69.50" y1="331.50" x2="75.90" y2="331.50" stroke="#555" stroke-width="1" />
<text x="35.09" y="334.40" font-size="16.5" fill="#5a5a5a" font-weight="normal" text-anchor="start" >0.03</text>
<line x1="69.50" y1="308.33" x2="75.90" y2="308.33" stroke="#555" stroke-width="1" />
<text x="35.09" y="311.23" font-size="16.5" fill="#5a5a5a" font-weight="normal" text-anchor="start" >0.04</text>
<line x1="175.20" y1="447.30" x2="175.20" y2="441.00" stroke="#777" stroke-width="1" />
<line x1="325.50" y1="447.30" x2="325.50" y2="441.00" stroke="#777" stroke-width="1" />
<line x1="475.60" y1="447.30" x2="475.60" y2="441.00" stroke="#777" stroke-width="1" />
<line x1="625.40" y1="447.30" x2="625.40" y2="441.00" stroke="#777" stroke-width="1" />
<rect x="172.13" y="460.04" width="1.48" height="11.56" fill="#333"/>
<path d="M172.94 460.43L169.66 462.78" stroke="#333" stroke-width="1.26" fill="none"/>
<text x="177.24" y="471.60" font-size="16.8" fill="#333" font-weight="normal" text-anchor="start" >0</text>
<rect x="189.81" y="451.07" width="1.23" height="9.63" fill="#333"/>
<path d="M190.48 451.39L187.75 453.35" stroke="#333" stroke-width="1.05" fill="none"/>
<rect x="322.43" y="460.04" width="1.48" height="11.56" fill="#333"/>
<path d="M323.24 460.43L319.96 462.78" stroke="#333" stroke-width="1.26" fill="none"/>
<text x="327.54" y="471.60" font-size="16.8" fill="#333" font-weight="normal" text-anchor="start" >0</text>
<text x="336.58" y="460.70" font-size="14" fill="#333" font-weight="normal" text-anchor="start" >2</text>
<rect x="472.53" y="460.04" width="1.48" height="11.56" fill="#333"/>
<path d="M473.34 460.43L470.06 462.78" stroke="#333" stroke-width="1.26" fill="none"/>
<text x="477.64" y="471.60" font-size="16.8" fill="#333" font-weight="normal" text-anchor="start" >0</text>
<text x="486.68" y="460.70" font-size="14" fill="#333" font-weight="normal" text-anchor="start" >3</text>
<rect x="622.33" y="460.04" width="1.48" height="11.56" fill="#333"/>
<path d="M623.14 460.43L619.86 462.78" stroke="#333" stroke-width="1.26" fill="none"/>
<text x="627.44" y="471.60" font-size="16.8" fill="#333" font-weight="normal" text-anchor="start" >0</text>
<text x="636.48" y="460.70" font-size="14" fill="#333" font-weight="normal" text-anchor="start" >4</text>
<text x="306.30" y="501.20" font-size="16" fill="#262626" font-weight="normal" text-anchor="start" >Wavenumber, [k]</text>
<rect x="92.45" y="297.15" width="38.9" height="11.9" fill="#a09ec8" stroke="#c27a80" stroke-width="1.6"/>
<rect x="92.85" y="297.55" width="38.1" height="11.1" fill="none" stroke="#8c5070" stroke-width="0.8"/>
<rect x="92.45" y="314.15" width="38.9" height="11.8" fill="#b2caf2" stroke="#dc96a0" stroke-width="1.5"/>
<rect x="157.80" y="296.90" width="39.70" height="12.00" fill="#a09ec8" />
<rect x="157.80" y="313.90" width="39.70" height="11.80" fill="#b2caf2" />
<rect x="231.80" y="296.80" width="39.70" height="12.30" fill="#c0767a" />
<rect x="231.80" y="313.90" width="39.70" height="11.80" fill="#dca8ac" />
<rect x="138.20" y="301.10" width="5.60" height="1.45" fill="#111" />
<rect x="138.20" y="303.40" width="5.60" height="1.45" fill="#111" />
<rect x="138.20" y="302.55" width="5.60" height="0.85" fill="#999" />
<path d="M212.4 300.90L217.5 303.00L212.4 305.10" stroke="#111" stroke-width="1.6" fill="none" stroke-linejoin="miter"/>
<rect x="138.20" y="317.50" width="5.60" height="1.45" fill="#111" />
<rect x="138.20" y="319.90" width="5.60" height="1.45" fill="#111" />
<path d="M212.4 317.30L217.5 319.40L212.4 321.50" stroke="#111" stroke-width="1.6" fill="none" stroke-linejoin="miter"/>
</svg></body></html>
